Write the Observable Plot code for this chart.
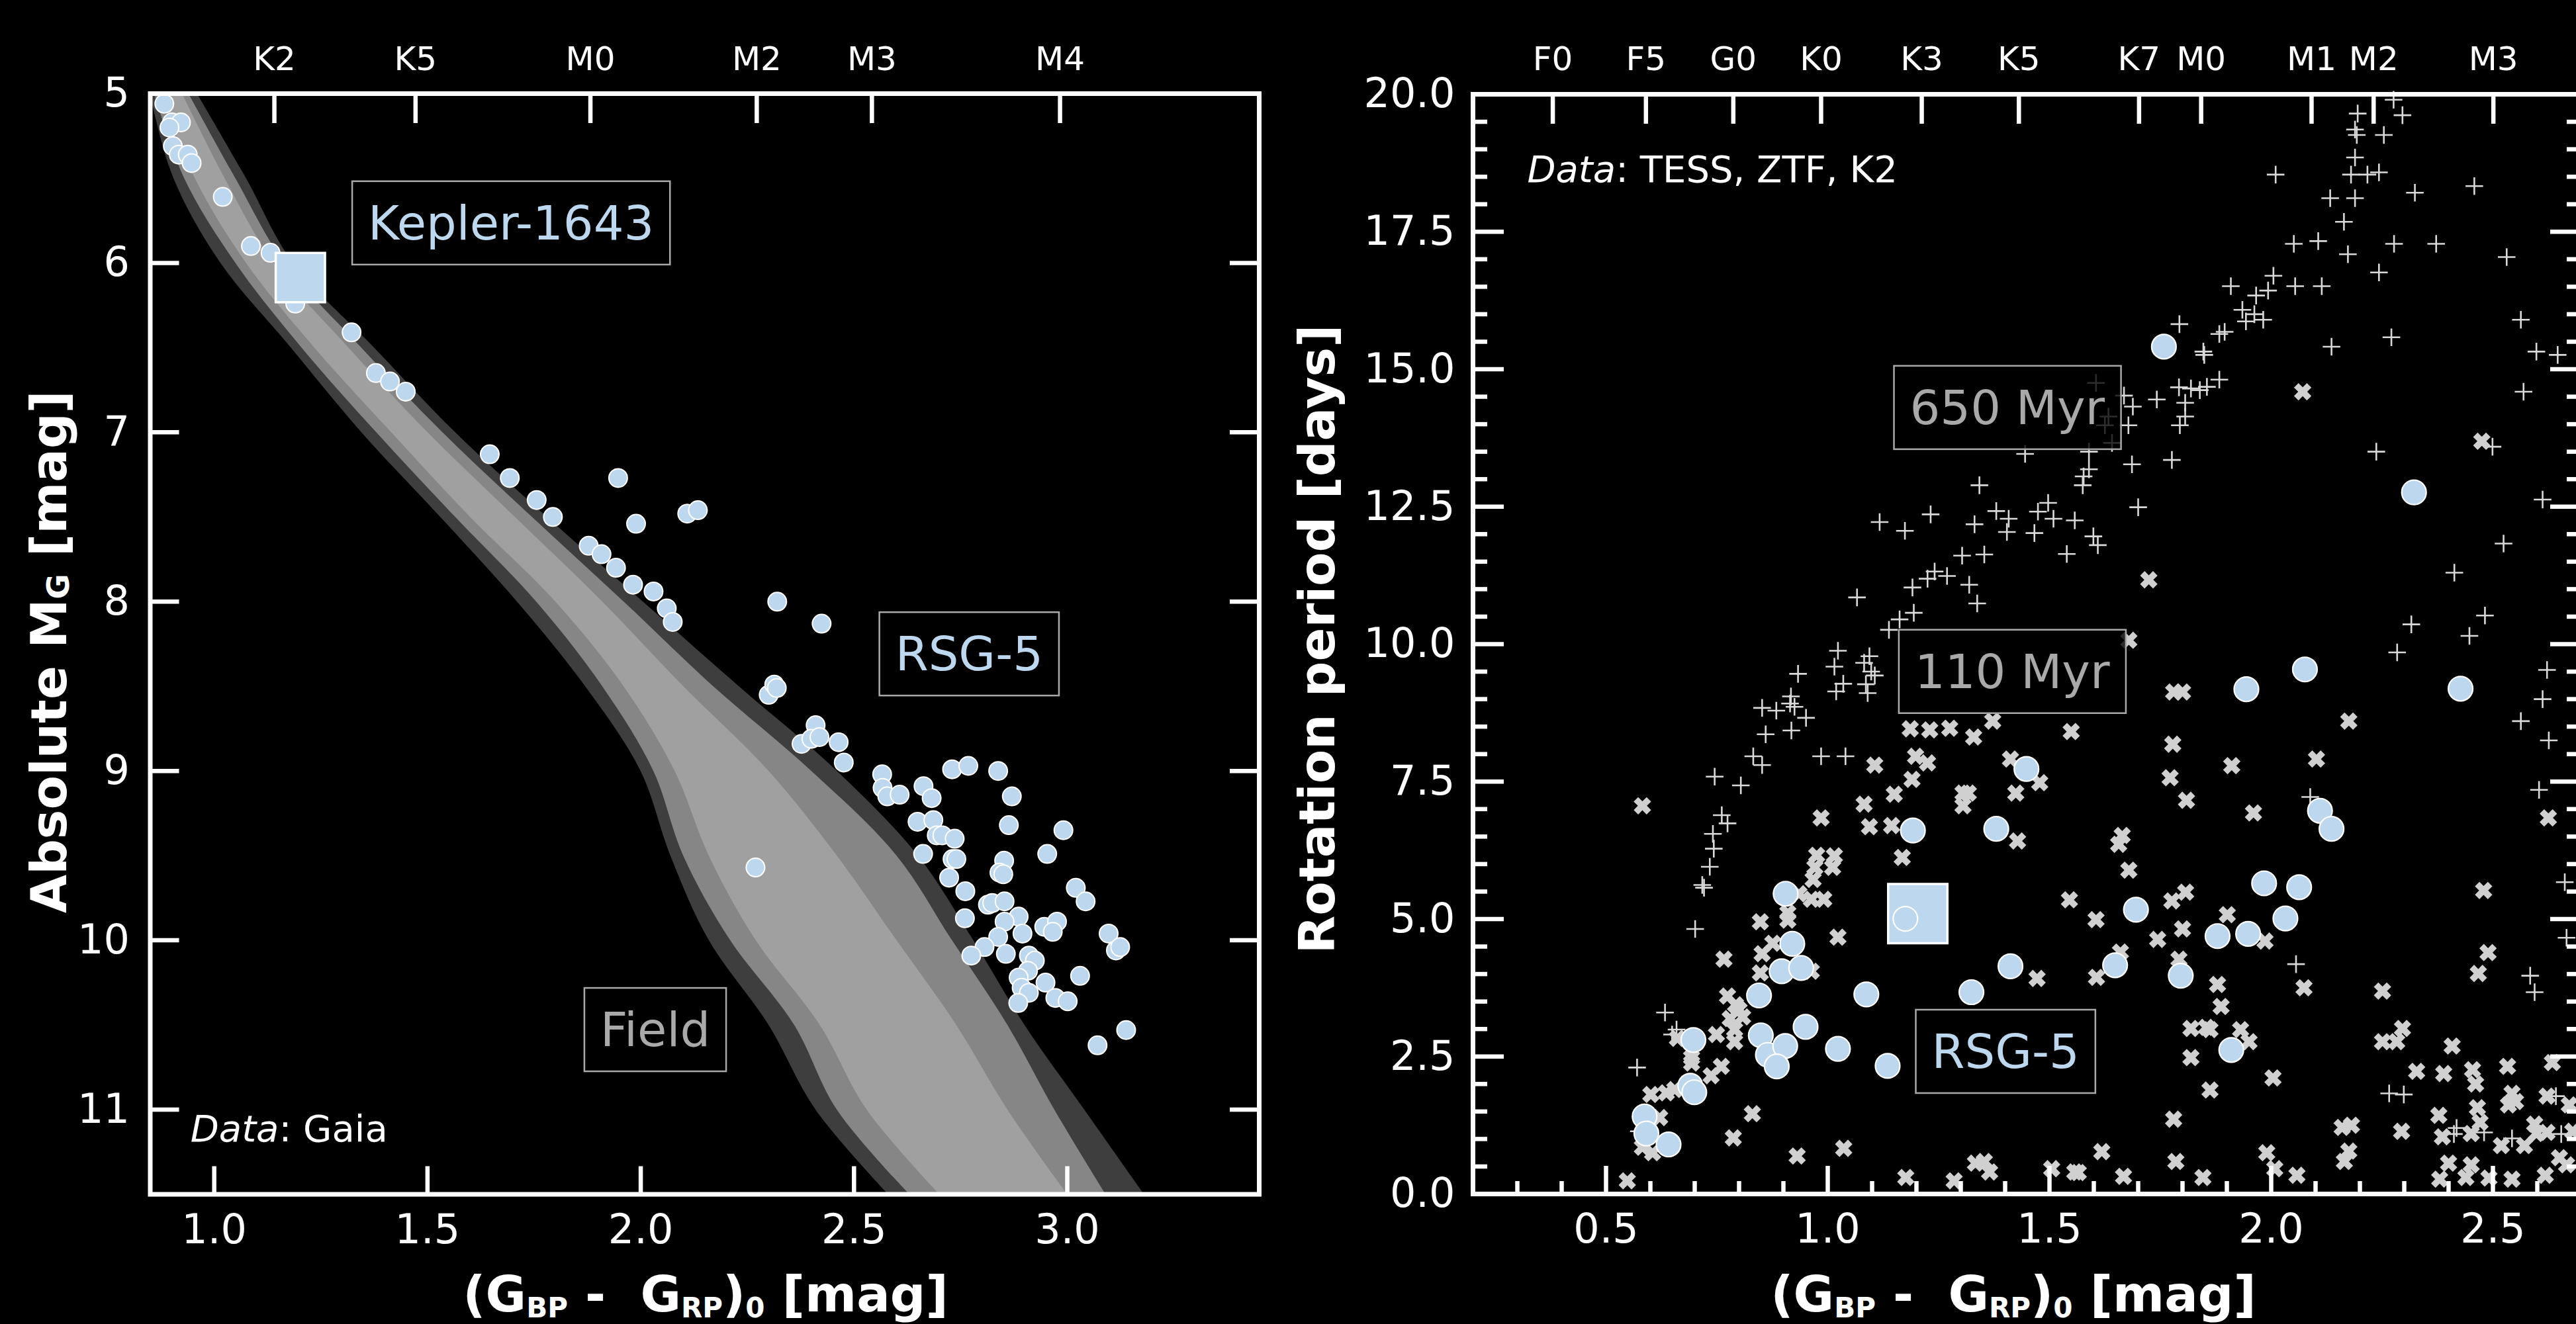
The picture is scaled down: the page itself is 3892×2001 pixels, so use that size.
<!DOCTYPE html>
<html>
<head>
<meta charset="utf-8">
<script src="https://cdn.jsdelivr.net/npm/d3@7"></script>
<script src="https://cdn.jsdelivr.net/npm/@observablehq/plot@0.6"></script>
<style>
html, body { margin: 0; padding: 0; background: #000; overflow: hidden; width: 3892px; height: 2001px; }
#wrap { position: relative; width: 3892px; height: 2001px; overflow: hidden; background: #000; }
#wrap svg { position: absolute; top: 0; }
</style>
</head>
<body>
<div id="wrap"></div>
<script>
// ---------------- LEFT PANEL DATA (colour–magnitude diagram) ----------------
const leftYTicks = [5, 6, 7, 8, 9, 10, 11];
const leftXTicks = [1.0, 1.5, 2.0, 2.5, 3.0];
const leftSpecPos = [1.141, 1.472, 1.882, 2.272, 2.542, 2.983];
const leftSpecLab = ["K2", "K5", "M0", "M2", "M3", "M4"];

// Gaia field main-sequence density (band edges read per magnitude row)
const fieldMag   = [5.0, 5.5, 6.0, 6.5, 7.0, 7.5, 8.0, 8.5, 9.0, 9.5, 10.0, 10.5, 11.0, 11.5];
const fringeBlue = [0.85, 0.905, 1.015, 1.18, 1.345, 1.53, 1.71, 1.87, 2.00, 2.07, 2.16, 2.30, 2.41, 2.58];
const fringeRed  = [0.96, 1.075, 1.185, 1.375, 1.565, 1.78, 2.005, 2.23, 2.46, 2.65, 2.78, 2.90, 3.04, 3.18];
const bodyBlue   = [0.86, 0.93, 1.05, 1.205, 1.38, 1.565, 1.755, 1.91, 2.03, 2.10, 2.21, 2.36, 2.46, 2.63];
const bodyRed    = [0.94, 1.05, 1.165, 1.345, 1.535, 1.745, 1.96, 2.17, 2.40, 2.60, 2.73, 2.86, 2.97, 3.09];
const coreBlue   = [0.875, 0.955, 1.075, 1.235, 1.415, 1.60, 1.80, 1.96, 2.08, 2.16, 2.27, 2.42, 2.53, 2.70];
const coreRed    = [0.925, 1.025, 1.14, 1.315, 1.50, 1.705, 1.91, 2.10, 2.30, 2.46, 2.60, 2.74, 2.86, 3.00];

// RSG-5 members in the CMD
const cmdColor = [0.883,0.901,0.922,0.895,0.903,0.917,0.938,0.947,1.020,1.086,1.132,1.190,1.322,1.379,1.412,1.449,1.646,1.693,1.756,1.794,1.947,1.989,2.109,2.134,1.878,1.908,1.942,1.982,2.030,2.061,2.075,2.320,2.424,
  2.300,2.313,2.319,2.410,2.377,2.400,2.419,2.464,2.476,2.269,2.566,2.567,2.578,2.607,2.663,2.682,2.730,2.768,2.838,2.870,2.649,2.686,2.694,2.707,2.736,2.863,2.991,2.662,2.731,2.740,2.723,2.852,2.841,2.850,2.953,2.761,2.814,2.824,2.853,3.020,3.043,2.760,2.886,2.853,2.895,2.838,2.806,2.775,2.856,2.946,2.976,2.966,3.097,3.114,3.124,2.910,2.924,2.908,2.886,2.893,2.949,2.910,2.885,2.972,3.001,3.030,3.138,3.071];
const cmdMag = [5.06,5.17,5.17,5.20,5.31,5.36,5.36,5.41,5.61,5.90,5.94,6.24,6.41,6.65,6.70,6.76,7.13,7.27,7.40,7.50,7.27,7.54,7.48,7.46,7.67,7.72,7.80,7.90,7.94,8.04,8.12,8.00,8.13,
  8.55,8.49,8.51,8.73,8.84,8.81,8.80,8.83,8.95,9.57,9.02,9.10,9.15,9.14,9.09,9.16,8.99,8.97,9.00,9.15,9.30,9.29,9.38,9.38,9.40,9.32,9.35,9.49,9.52,9.52,9.63,9.53,9.60,9.61,9.49,9.71,9.79,9.78,9.77,9.69,9.77,9.87,9.86,9.89,9.96,9.98,10.04,10.09,10.08,9.92,9.89,9.95,9.96,10.06,10.04,10.09,10.12,10.18,10.22,10.28,10.25,10.31,10.37,10.34,10.36,10.21,10.53,10.62];

const keplerCmdColor = [1.202];
const keplerCmdMag = [6.086];

const leftLabelText  = ["Kepler-1643", "RSG-5", "Field"];
const leftLabelX     = [1.696, 2.770, 2.034];
const leftLabelY     = [5.771, 8.316, 10.535];
const leftLabelColor = ["#bdd7ee", "#bdd7ee", "#a9a9a9"];
const leftNoteX = [0.945], leftNoteY = [11.19];

// ---------------- RIGHT PANEL DATA (rotation periods) ----------------
const rightYTicks = [0, 2.5, 5, 7.5, 10, 12.5, 15, 17.5, 20];
const rightXTicks = [0.5, 1.0, 1.5, 2.0, 2.5];
const rightSpecPos = [0.380, 0.590, 0.787, 0.985, 1.212, 1.431, 1.702, 1.842, 2.091, 2.231, 2.501];
const rightSpecLab = ["F0", "F5", "G0", "K0", "K3", "K5", "K7", "M0", "M1", "M2", "M3"];

// 650 Myr reference cluster (+)
const oldColor = [2.276,2.195,2.296,2.189,2.193,2.254,2.189,2.010,2.180,2.217,2.243,2.133,2.189,2.324,2.458,2.164,2.051,2.106,2.173,2.277,2.372,2.531,2.243,2.005,1.909,1.993,1.966,2.054,2.114,1.935,1.943,1.962,1.982,1.883,1.895,1.793,1.847,1.849,2.136,2.271,2.563,2.598,2.646,1.883,1.792,1.819,1.839,1.855,1.806,1.806,1.794,1.742,1.688,1.668,1.678,1.776,1.686,1.589,1.589,1.577,1.575,1.700,1.497,1.474,1.509,1.557,1.466,1.599,1.609,1.539,2.237,2.499,2.569,2.612,2.524,2.413,2.482,2.316,2.447,1.445,1.605,1.633,1.625,1.641,
  1.342,1.232,1.117,1.174,1.331,1.380,1.408,1.404,1.303,1.353,1.241,1.225,1.269,1.191,1.319,1.337,1.066,1.162,1.194,1.138,
  1.023,1.015,0.933,1.035,1.019,1.082,1.094,1.098,1.086,1.090,1.106,0.917,0.915,0.884,0.852,0.925,0.951,0.860,0.918,0.832,0.852,0.985,1.040,0.745,0.804,0.761,0.774,0.741,0.743,0.734,0.717,0.721,0.701,0.633,0.659,0.649,0.570,0.574,
  2.284,2.622,2.612,2.563,2.626,2.604,2.088,2.662,2.666,2.056,2.584,2.594,2.266,2.299,2.412,2.480,2.543,2.654,2.642,2.418];
const oldPeriod = [19.90,19.65,19.62,19.36,19.26,19.26,18.85,18.54,18.54,18.54,18.58,18.11,18.11,18.21,18.33,17.68,17.28,17.33,17.09,17.28,17.28,17.04,16.76,16.70,16.51,16.43,16.34,16.51,16.51,16.08,15.87,16.00,15.90,15.64,15.68,15.82,15.32,15.26,15.41,15.58,15.90,15.32,15.26,14.81,14.67,14.65,14.62,14.68,14.39,14.14,13.98,14.45,14.32,14.52,13.98,13.35,13.27,13.50,13.18,13.05,12.89,12.49,12.57,12.41,12.28,12.25,12.02,11.96,11.80,11.64,13.50,13.59,14.59,12.63,11.83,11.30,10.52,10.36,10.15,13.46,14.75,14.14,13.98,13.66,
  12.89,12.36,12.22,12.06,12.18,12.42,12.28,12.04,11.61,11.63,11.32,11.19,11.24,11.03,11.08,10.74,10.85,10.45,10.57,10.26,
  9.88,9.59,9.46,9.28,9.14,9.66,9.78,9.50,9.27,9.11,9.43,9.05,8.92,8.79,8.84,8.86,8.66,8.36,8.43,7.96,7.80,7.96,7.96,7.59,7.43,6.89,6.74,6.55,6.28,5.95,5.62,5.57,4.82,3.30,2.99,2.90,2.30,1.14,
  9.85,9.53,9.00,8.60,8.25,7.35,7.22,5.67,4.66,4.18,3.97,3.67,1.83,1.81,1.09,1.12,1.01,1.09,1.78,1.20];

// 110 Myr reference cluster (x)
const youngColor = [0.582,0.985,1.106,1.082,1.150,1.190,1.186,1.230,1.275,1.329,1.372,1.198,1.225,1.412,1.305,1.317,1.305,1.424,1.428,1.094,1.144,1.168,0.975,1.015,0.971,1.011,0.967,0.963,0.991,0.935,0.910,0.910,0.848,1.023,0.876,0.852,0.766,0.848,0.963,0.774,0.792,0.800,0.780,0.808,0.790,0.790,0.749,0.661,0.693,0.693,0.760,0.737,0.601,0.636,0.655,0.621,0.830,0.787,0.582,0.605,0.931,1.036,0.548,1.176,1.285,1.333,1.353,1.365,
  1.549,1.780,1.800,1.778,1.772,1.809,1.911,1.960,2.175,2.102,1.478,1.664,1.656,1.679,1.545,1.605,1.776,1.807,1.800,1.744,1.901,1.986,1.660,1.792,1.472,1.606,1.879,1.887,2.074,1.819,1.854,1.862,1.931,1.950,1.819,2.004,1.862,1.780,1.618,1.785,1.505,1.557,1.565,1.667,1.846,1.990,2.008,2.058,2.160,2.181,2.175,2.165,2.251,2.296,2.251,2.283,2.294,2.479,2.489,2.467,2.625,2.328,2.389,2.408,2.454,2.461,2.533,2.634,2.378,2.386,2.465,2.471,2.451,2.543,2.535,2.551,2.519,2.571,2.594,2.598,2.622,2.622,2.650,2.666,2.400,2.451,2.439,2.380,2.491,2.543,2.618,2.680,2.672,
  2.071,2.475,1.724,1.679];
const youngPeriod = [7.06,6.84,7.80,7.09,7.27,7.54,8.46,8.44,8.47,8.31,8.60,7.96,7.84,7.91,7.29,7.29,7.06,7.29,6.42,6.68,6.70,6.12,6.16,6.15,5.94,5.94,5.72,5.36,5.36,5.46,5.11,4.98,4.95,4.67,4.56,4.37,4.27,4.02,4.05,3.60,3.44,3.35,3.19,3.22,2.99,2.77,2.90,2.83,2.48,2.38,2.32,2.15,1.81,1.84,1.90,1.39,1.46,1.02,0.85,0.75,0.69,0.83,0.24,0.30,0.24,0.56,0.59,0.40,
  8.41,9.13,9.13,8.18,7.57,7.16,7.79,6.93,8.60,7.91,7.48,6.52,6.36,5.89,5.35,4.99,5.33,5.49,4.82,4.63,5.08,4.60,4.40,4.27,3.92,3.94,3.81,3.41,3.75,3.01,3.03,2.99,2.99,2.77,2.48,2.11,1.89,1.36,0.77,0.59,0.46,0.40,0.39,0.32,0.30,0.75,0.46,0.34,1.21,1.25,0.78,0.59,3.69,3.01,2.77,2.77,1.14,5.52,4.39,4.01,6.84,2.23,2.19,2.69,2.26,2.00,2.32,2.39,1.43,1.04,1.57,1.30,1.10,1.83,1.62,1.68,0.88,0.88,1.27,1.10,1.12,1.78,0.66,0.53,0.56,0.53,0.30,0.27,0.29,0.27,0.34,1.14,1.62,
  14.59,13.69,11.17,10.07];

// RSG-5 members with periods
const rsgColor = [0.905,0.920,0.896,0.940,0.845,1.087,1.324,1.412,1.192,1.380,1.448,0.697,0.849,0.865,0.904,0.885,0.950,1.023,1.135,0.690,0.699,0.587,0.591,0.641,2.076,1.944,2.427,2.110,2.136,1.984,2.063,1.695,2.032,1.879,1.948,1.648,1.796,1.910,1.758,2.322];
const rsgPeriod = [5.46,4.55,4.05,4.11,3.61,3.63,3.67,4.14,6.61,6.64,7.73,2.80,2.885,2.53,2.69,2.32,3.04,2.64,2.33,1.97,1.85,1.41,1.10,0.90,9.54,9.18,9.19,6.97,6.64,5.65,5.58,5.17,5.01,4.69,4.73,4.16,3.97,2.62,15.41,12.76];
const rsgTopColor = [1.175], rsgTopPeriod = [5.005];

const keplerColor = [1.203];
const keplerPeriod = [5.10];

const rightLabelText  = ["650 Myr", "110 Myr", "RSG-5"];
const rightLabelX     = [1.405, 1.416, 1.401];
const rightLabelY     = [14.28, 9.48, 2.57];
const rightLabelColor = ["#a9a9a9", "#a9a9a9", "#bdd7ee"];
const rightNoteX = [0.323], rightNoteY = [18.40];

// ---------------- STYLE ----------------
const BLUE = "#bdd7ee";
const FONT = "DejaVu Sans";
const TICKW = 6.5;

const plusSymbol = {
  draw(ctx) { const h = 13.3; ctx.moveTo(-h, 0); ctx.lineTo(h, 0); ctx.moveTo(0, -h); ctx.lineTo(0, h); }
};
const xSymbol = {
  draw(ctx) {
    const h = 13.8, t = 4.8, s = Math.SQRT1_2;
    const pts = [[t,-h],[t,-t],[h,-t],[h,t],[t,t],[t,h],[-t,h],[-t,t],[-h,t],[-h,-t],[-t,-t],[-t,-h]]
      .map(([x, y]) => [(x - y) * s, (x + y) * s]);
    ctx.moveTo(pts[0][0], pts[0][1]);
    for (let i = 1; i < pts.length; i++) ctx.lineTo(pts[i][0], pts[i][1]);
    ctx.closePath();
  }
};

const idx = (a) => a.map((_, i) => i);

function richText(sel, parts, size, subShift, subScale) {
  let shift = 0;
  parts.forEach(([t, sub]) => {
    const target = sub ? subShift : 0;
    const ts = sel.append("tspan").text(t).attr("dy", target - shift);
    if (sub) ts.attr("font-size", size * subScale);
    shift = target;
  });
}

function addBoxes(svg, labels) {
  const sr = svg.getBoundingClientRect();
  const texts = Array.from(svg.querySelectorAll("text")).filter(t => labels.includes(t.textContent));
  texts.forEach(t => {
    const r = t.getBoundingClientRect();
    const g = t.parentNode;
    const padX = 24, padY = 21;
    const rect = document.createElementNS("http://www.w3.org/2000/svg", "rect");
    rect.setAttribute("x", r.left - sr.left - padX);
    rect.setAttribute("y", r.top - sr.top - padY);
    rect.setAttribute("width", r.width + 2 * padX);
    rect.setAttribute("height", r.height + 2 * padY);
    rect.setAttribute("fill", "black");
    rect.setAttribute("fill-opacity", "0.8");
    rect.setAttribute("stroke", "#a9a9a9");
    rect.setAttribute("stroke-width", "2.5");
    g.parentNode.insertBefore(rect, g);
  });
}

const wrap = document.getElementById("wrap");

// ---------------- LEFT PANEL ----------------
{
  const W = 1950, H = 2001, mL = 226.5, mR = 48, mT = 141, mB = 196.5;
  const pw = W - mL - mR, ph = H - mT - mB;
  const plot = Plot.plot({
    width: W, height: H,
    marginLeft: mL, marginRight: mR, marginTop: mT, marginBottom: mB,
    style: { background: "black", color: "white", fontFamily: FONT, overflow: "visible" },
    x: { domain: [0.85, 3.45], axis: null },
    y: { domain: [11.5, 5], axis: null },
    marks: [
      Plot.areaX(fieldMag, { y: fieldMag, x1: fringeBlue, x2: fringeRed, fill: "#3e3e3e", curve: "catmull-rom", clip: true }),
      Plot.areaX(fieldMag, { y: fieldMag, x1: bodyBlue, x2: bodyRed, fill: "#868686", curve: "catmull-rom", clip: true }),
      Plot.areaX(fieldMag, { y: fieldMag, x1: coreBlue, x2: coreRed, fill: "#a0a0a0", curve: "catmull-rom", clip: true }),
      Plot.dot(idx(cmdColor), { x: i => cmdColor[i], y: i => cmdMag[i], r: 14, fill: BLUE, stroke: "white", strokeWidth: 2 }),
      Plot.dot(idx(keplerCmdColor), { x: i => keplerCmdColor[i], y: i => keplerCmdMag[i], symbol: "square", r: 42, fill: BLUE, stroke: "white", strokeWidth: 3.5 }),
      Plot.text(idx(leftLabelText), { x: i => leftLabelX[i], y: i => leftLabelY[i], text: i => leftLabelText[i], fill: i => leftLabelColor[i], fontSize: 72, textAnchor: "middle", lineAnchor: "middle" }),
      Plot.tickY(leftYTicks, { y: d => d, stroke: "white", strokeWidth: TICKW, insetRight: pw - 44 }),
      Plot.tickY(leftYTicks, { y: d => d, stroke: "white", strokeWidth: TICKW, insetLeft: pw - 44 }),
      Plot.tickX(leftXTicks, { x: d => d, stroke: "white", strokeWidth: TICKW, insetTop: ph - 42 }),
      Plot.tickX(leftSpecPos, { x: d => d, stroke: "white", strokeWidth: TICKW, insetBottom: ph - 45 }),
      Plot.frame({ stroke: "white", strokeWidth: 7 }),
      Plot.text(leftYTicks, { y: d => d, frameAnchor: "left", text: d => String(d), textAnchor: "end", dx: -31, fontSize: 62, fill: "white" }),
      Plot.text(leftXTicks, { x: d => d, frameAnchor: "bottom", text: d => d.toFixed(1), lineAnchor: "top", dy: 30, fontSize: 62, fill: "white" }),
      Plot.text(idx(leftSpecPos), { x: i => leftSpecPos[i], frameAnchor: "top", text: i => leftSpecLab[i], lineAnchor: "bottom", dy: -36, fontSize: 50, fill: "white" })
    ]
  });
  plot.style.left = "0px";
  wrap.appendChild(plot);
  addBoxes(plot, leftLabelText);
  const sx = plot.scale("x"), sy = plot.scale("y");
  const svg = d3.select(plot);
  const note = svg.append("text").attr("x", sx.apply(leftNoteX[0])).attr("y", sy.apply(leftNoteY[0]))
    .attr("text-anchor", "start").attr("fill", "white").attr("font-size", 56).attr("font-family", FONT);
  note.append("tspan").attr("font-style", "italic").text("Data");
  note.append("tspan").text(": Gaia");
  const yt = svg.append("text").attr("transform", "translate(100,985) rotate(-90)")
    .attr("text-anchor", "middle").attr("fill", "white").attr("font-size", 75).attr("font-weight", "bold")
    .attr("font-family", FONT).style("white-space", "pre");
  richText(yt, [["Absolute M", 0], ["G", 1], [" [mag]", 0]], 75, 4, 0.62);
  const xt = svg.append("text").attr("x", 1066).attr("y", 1982)
    .attr("text-anchor", "middle").attr("fill", "white").attr("font-size", 75).attr("font-weight", "bold")
    .attr("font-family", FONT).style("white-space", "pre");
  richText(xt, [["(G", 0], ["BP", 1], [" -  G", 0], ["RP", 1], [")", 0], ["0", 1], [" [mag]", 0]], 75, 9, 0.56);
}

// ---------------- RIGHT PANEL ----------------
{
  const W = 1960, H = 2001, mL = 275, mR = 10, mT = 142, mB = 197;
  const pw = W - mL - mR, ph = H - mT - mB;
  const majY = new Set(rightYTicks.map(v => v.toFixed(1)));
  const minorY = d3.range(0.5, 20, 0.5).filter(v => !majY.has(v.toFixed(1)));
  const majX = new Set(rightXTicks.map(v => v.toFixed(1)));
  const minorX = d3.range(0.3, 2.65, 0.1).filter(v => !majX.has(v.toFixed(1)));
  const plot = Plot.plot({
    width: W, height: H,
    marginLeft: mL, marginRight: mR, marginTop: mT, marginBottom: mB,
    style: { background: "black", color: "white", fontFamily: FONT, overflow: "visible" },
    x: { domain: [0.2, 2.7], axis: null },
    y: { domain: [0, 20], axis: null },
    marks: [
      Plot.dot(idx(oldColor), { x: i => oldColor[i], y: i => oldPeriod[i], symbol: plusSymbol, r: 10, fill: "none", stroke: "#d9d9d9", strokeWidth: 2.6 }),
      Plot.dot(idx(youngColor), { x: i => youngColor[i], y: i => youngPeriod[i], symbol: xSymbol, r: 10, fill: "#d0d0d0", stroke: "none" }),
      Plot.dot(idx(rsgColor), { x: i => rsgColor[i], y: i => rsgPeriod[i], r: 18.5, fill: BLUE, stroke: "white", strokeWidth: 2.2 }),
      Plot.dot(idx(keplerColor), { x: i => keplerColor[i], y: i => keplerPeriod[i], symbol: "square", r: 50.5, fill: BLUE, stroke: "white", strokeWidth: 3.5 }),
      Plot.dot(idx(rsgTopColor), { x: i => rsgTopColor[i], y: i => rsgTopPeriod[i], r: 18.5, fill: BLUE, stroke: "white", strokeWidth: 2.2 }),
      Plot.text(idx(rightLabelText), { x: i => rightLabelX[i], y: i => rightLabelY[i], text: i => rightLabelText[i], fill: i => rightLabelColor[i], fontSize: 72, textAnchor: "middle", lineAnchor: "middle" }),
      Plot.tickY(rightYTicks, { y: d => d, stroke: "white", strokeWidth: TICKW, insetRight: pw - 47 }),
      Plot.tickY(minorY, { y: d => d, stroke: "white", strokeWidth: TICKW, insetRight: pw - 22 }),
      Plot.tickY(rightYTicks, { y: d => d, stroke: "white", strokeWidth: TICKW, insetLeft: pw - 47 }),
      Plot.tickY(minorY, { y: d => d, stroke: "white", strokeWidth: TICKW, insetLeft: pw - 22 }),
      Plot.tickX(rightXTicks, { x: d => d, stroke: "white", strokeWidth: TICKW, insetTop: ph - 42 }),
      Plot.tickX(minorX, { x: d => d, stroke: "white", strokeWidth: TICKW, insetTop: ph - 19 }),
      Plot.tickX(rightSpecPos, { x: d => d, stroke: "white", strokeWidth: TICKW, insetBottom: ph - 45 }),
      Plot.frame({ stroke: "white", strokeWidth: 7 }),
      Plot.text(rightYTicks, { y: d => d, frameAnchor: "left", text: d => d.toFixed(1), textAnchor: "end", dx: -27, fontSize: 62, fill: "white" }),
      Plot.text(rightXTicks, { x: d => d, frameAnchor: "bottom", text: d => d.toFixed(1), lineAnchor: "top", dy: 29, fontSize: 62, fill: "white" }),
      Plot.text(idx(rightSpecPos), { x: i => rightSpecPos[i], frameAnchor: "top", text: i => rightSpecLab[i], lineAnchor: "bottom", dy: -37, fontSize: 50, fill: "white" })
    ]
  });
  plot.style.left = "1950px";
  wrap.appendChild(plot);
  addBoxes(plot, rightLabelText);
  const sx = plot.scale("x"), sy = plot.scale("y");
  const svg = d3.select(plot);
  const note = svg.append("text").attr("x", sx.apply(rightNoteX[0])).attr("y", sy.apply(rightNoteY[0]))
    .attr("text-anchor", "start").attr("fill", "white").attr("font-size", 56).attr("font-family", FONT);
  note.append("tspan").attr("font-style", "italic").text("Data");
  note.append("tspan").text(": TESS, ZTF, K2");
  const yt = svg.append("text").attr("transform", "translate(66,966) rotate(-90)")
    .attr("text-anchor", "middle").attr("fill", "white").attr("font-size", 75).attr("font-weight", "bold")
    .attr("font-family", FONT).text("Rotation period [days]");
  const xt = svg.append("text").attr("x", 1092).attr("y", 1982)
    .attr("text-anchor", "middle").attr("fill", "white").attr("font-size", 75).attr("font-weight", "bold")
    .attr("font-family", FONT).style("white-space", "pre");
  richText(xt, [["(G", 0], ["BP", 1], [" -  G", 0], ["RP", 1], [")", 0], ["0", 1], [" [mag]", 0]], 75, 9, 0.56);
}
</script>
</body>
</html>
